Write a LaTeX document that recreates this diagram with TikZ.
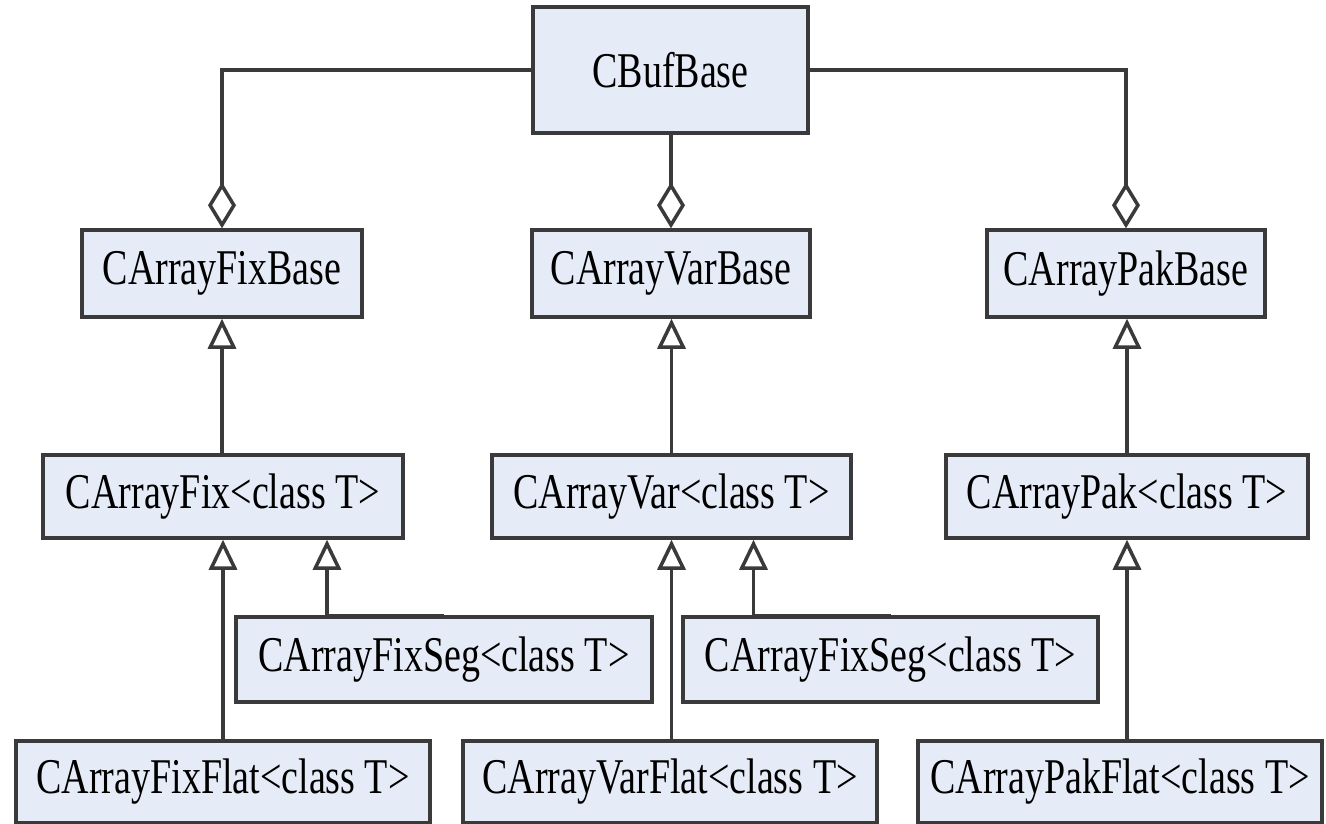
\documentclass[tikz,border=0pt]{standalone}
\usepackage{fontspec}
\setmainfont{Liberation Serif}[FakeStretch=0.76]
\usetikzlibrary{arrows.meta}
\definecolor{linec}{HTML}{3A3A3A}
\definecolor{boxfill}{HTML}{E6ECF7}
\begin{document}
\begin{tikzpicture}[x=1pt,y=-1pt,
  cls/.style={draw=linec, line width=3.5pt, fill=boxfill, inner sep=0pt,
    font=\fontsize{50}{54}\selectfont},
  agg/.style={draw=linec, line width=3.5pt,
    -{Diamond[open, length=46pt, width=28pt]}},
  inh/.style={draw=linec, line width=3.5pt,
    -{Triangle[open, length=30pt, width=28pt]}}]
\useasboundingbox[fill=white] (0,0) rectangle (1326,824);

\node[cls, minimum width=275pt, minimum height=126pt] (buf) at (670.5,70) {CBufBase};

\node[cls, minimum width=280pt, minimum height=87pt] (fixb) at (222,273.5) {CArrayFixBase};
\node[cls, minimum width=278pt, minimum height=87pt] (varb) at (671,273.5) {CArrayVarBase};
\node[cls, minimum width=278pt, minimum height=87pt] (pakb) at (1126,273.5) {CArrayPakBase};

\node[cls, minimum width=360pt, minimum height=83pt] (fix) at (223,496.5) {CArrayFix<class T>};
\node[cls, minimum width=359pt, minimum height=83pt] (var) at (671.5,496.5) {CArrayVar<class T>};
\node[cls, minimum width=362pt, minimum height=83pt] (pak) at (1127,496.5) {CArrayPak<class T>};

\node[cls, minimum width=416pt, minimum height=85pt] (seg1) at (444,659.5) {CArrayFixSeg<class T>};
\node[cls, minimum width=415pt, minimum height=85pt] (seg2) at (890.5,659.5) {CArrayFixSeg<class T>};

\node[cls, minimum width=414pt, minimum height=82pt] (fixf) at (223,782) {CArrayFixFlat<class T>};
\node[cls, minimum width=414pt, minimum height=82pt] (varf) at (670,782) {CArrayVarFlat<class T>};
\node[cls, minimum width=404pt, minimum height=82pt] (pakf) at (1120,782) {CArrayPakFlat<class T>};

% aggregation
\draw[agg] (buf.west) -| (fixb.north);
\draw[agg] (varb.north |- buf.south) -- (varb.north);
\draw[agg] (buf.east) -| (pakb.north);

% inheritance
\draw[inh] (fixb.south |- fix.north) -- (fixb.south);
\draw[inh] (var.south |- var.north) -- (varb.south -| var.south);
\draw[inh] (pak.north) -- (pakb.south -| pak.north);

\draw[inh] (fixf.north) -- (fix.south);
\draw[inh] (seg1.north) -| ([xshift=104pt]fix.south);
\draw[inh] (var.south |- varf.north) -- (var.south);
\draw[inh] (seg2.north) -| ([xshift=82pt]var.south);
\draw[inh] (pak.south |- pakf.north) -- (pak.south);
\end{tikzpicture}
\end{document}
